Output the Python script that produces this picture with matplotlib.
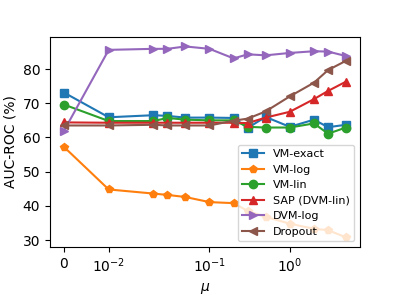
import matplotlib
matplotlib.use('Agg')
import matplotlib.pyplot as plt
from matplotlib.ticker import NullLocator

mu = [0, 0.01, 0.02, 0.03, 0.05, 0.1, 0.2, 0.3, 0.5, 1, 2, 3, 5]

vm_exact = [73.1, 65.9, 66.5, 66.3, 65.8, 65.8, 65.7, 62.8, 66.0, 63.1, 65.2, 63.0, 63.7]
vm_log = [57.2, 44.8, 43.6, 43.2, 42.6, 41.1, 40.8, 38.5, 36.8, 34.8, 33.3, 32.9, 30.8]
vm_lin = [69.6, 64.8, 64.8, 65.7, 65.2, 65.0, 65.0, 63.1, 62.9, 62.9, 64.1, 61.1, 62.9]
sap = [64.4, 64.3, 64.3, 64.3, 64.3, 64.3, 64.3, 64.2, 65.8, 67.5, 71.2, 73.6, 76.3]
dvm_log = [62.0, 85.6, 85.9, 85.9, 86.6, 85.9, 83.1, 84.3, 84.0, 84.7, 85.2, 85.1, 83.8]
dropout = [63.5, 63.5, 63.7, 63.5, 63.5, 63.5, 64.9, 65.5, 67.6, 72.0, 76.0, 79.7, 82.4]

series = [
    (vm_exact, 's', 'VM-exact'),
    (vm_log, 'p', 'VM-log'),
    (vm_lin, 'o', 'VM-lin'),
    (sap, '^', 'SAP (DVM-lin)'),
    (dvm_log, '>', 'DVM-log'),
    (dropout, '<', 'Dropout'),
]

fig, ax = plt.subplots(figsize=(4, 3), dpi=100)
for vals, mk, name in series:
    ax.plot(mu, vals, marker=mk, label=name)

ax.set_xscale('symlog', linthresh=0.02)
ax.set_xticks([0, 0.01, 0.1, 1])
ax.xaxis.set_minor_locator(NullLocator())
ax.set_xlabel(r'$\mu$')
ax.set_ylabel('AUC-ROC (%)')
ax.legend(loc='lower right', fontsize=8)

plt.subplots_adjust(left=0.125, right=0.9, top=0.877, bottom=0.177)
plt.savefig('out.png')
